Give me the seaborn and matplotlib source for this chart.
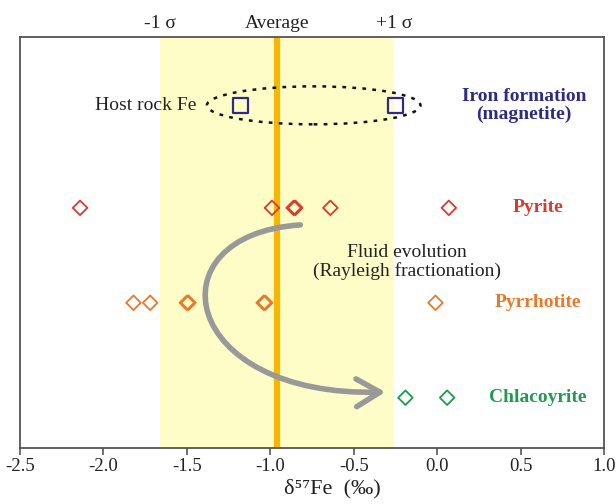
import numpy as np
import pandas as pd
import matplotlib
matplotlib.use("Agg")
import matplotlib.pyplot as plt
import seaborn as sns
from matplotlib.patches import Ellipse, FancyArrowPatch
from matplotlib.path import Path

# ---- data ----
iron_formation = [-1.18, -0.25]
pyrite = [-2.14, -0.99, -0.86, -0.85, -0.64, 0.07]
pyrrhotite = [-1.82, -1.72, -1.50, -1.49, -1.04, -1.03, -0.01]
chalcopyrite = [-0.19, 0.06]
mean_val = -0.96
sigma = 0.70
row_labels = ["Iron formation\n(magnetite)", "Pyrite", "Pyrrhotite", "Chlacoyrite"]
xticks = [-2.5, -2.0, -1.5, -1.0, -0.5, 0.0, 0.5, 1.0]

sns.set_theme(style="white")
plt.rcParams['font.family'] = ['Liberation Serif', 'DejaVu Serif']

rows = {"Iron": 4.08, "Pyrite": 3.0, "Pyrrhotite": 2.0, "Chalco": 1.0}
colors = {"Iron": "#2E2B85", "Pyrite": "#D83A2E", "Pyrrhotite": "#E8792A", "Chalco": "#1F9A4E"}

frames = []
for key, vals in [("Iron", iron_formation), ("Pyrite", pyrite),
                  ("Pyrrhotite", pyrrhotite), ("Chalco", chalcopyrite)]:
    frames.append(pd.DataFrame({"x": vals, "y": rows[key], "mineral": key}))
df = pd.concat(frames, ignore_index=True)

fig = plt.figure(figsize=(6.16, 5.04), dpi=100)
ax = fig.add_axes([20/616, 1 - 448/504, 584/616, 411/504])

ax.axvspan(mean_val - sigma, mean_val + sigma, color="#FEFDC8", zorder=0, lw=0)
ax.axvline(mean_val, color="#F5B700", lw=4.5, zorder=1)

for key in ["Pyrite", "Pyrrhotite", "Chalco"]:
    sub = df[df.mineral == key]
    sns.scatterplot(data=sub, x="x", y="y", ax=ax, marker="D", s=55,
                    facecolor="none", edgecolor=colors[key], linewidth=1.3,
                    zorder=3, legend=False)
sub = df[df.mineral == "Iron"]
sns.scatterplot(data=sub, x="x", y="y", ax=ax, marker="s", s=110,
                facecolor="none", edgecolor=colors["Iron"], linewidth=1.6,
                zorder=3, legend=False)

# dotted ellipse around host rock Fe
ell = Ellipse((-0.74, 4.08), 1.28, 0.40, fill=False, ls=(0, (1.5, 2.5)),
              lw=1.8, color="#111111", zorder=3)
ax.add_patch(ell)
ax.text(-1.745, 4.08, "Host rock Fe", ha="center", va="center", fontsize=14, color="#222222")

# fluid evolution arrow
verts = [(-0.82, 2.82), (-1.72, 2.72), (-1.55, 1.0), (-0.31, 1.06)]
path = Path(verts, [Path.MOVETO, Path.CURVE4, Path.CURVE4, Path.CURVE4])
arr = FancyArrowPatch(path=path, arrowstyle="->,head_length=17,head_width=10",
                      color="#999999", lw=4, zorder=2)
ax.add_patch(arr)
ax.text(-0.18, 2.43, "Fluid evolution\n(Rayleigh fractionation)", ha="center", va="center",
        fontsize=14, color="#222222", linespacing=1.05)

# right labels
lab_x = [0.52, 0.605, 0.605, 0.605]
for lab, key, lx in zip(row_labels, ["Iron", "Pyrite", "Pyrrhotite", "Chalco"], lab_x):
    ax.text(lx, rows[key], lab, ha="center", va="center", fontsize=14,
            fontweight="bold", color=colors[key], linespacing=1.1)

# top labels
for xv, t in [(mean_val - sigma, "-1 σ"), (mean_val, "Average"), (mean_val + sigma, "+1 σ")]:
    ax.text(xv, 1.012, t, transform=ax.get_xaxis_transform(), ha="center", va="bottom",
            fontsize=14, color="#222222")

ax.set_xlim(-2.5, 1.0)
ax.set_ylim(0.47, 4.8)
ax.set_xticks(xticks)
ax.set_xticklabels([f"{v:.1f}" for v in xticks], fontsize=13.5, color="#222222")
ax.set_yticks([])
ax.set_xlabel("")
ax.set_ylabel("")
fig.text(332/616, 1 - 489/504, "δ⁵⁷Fe  (‰)", ha="center", va="center",
         fontsize=16, color="#222222")
ax.tick_params(axis="x", direction="out", length=5, width=1.2, color="#555555", bottom=True, pad=2)
for s in ax.spines.values():
    s.set_color("#555555")
    s.set_linewidth(1.3)

fig.savefig("out.png", dpi=100)
